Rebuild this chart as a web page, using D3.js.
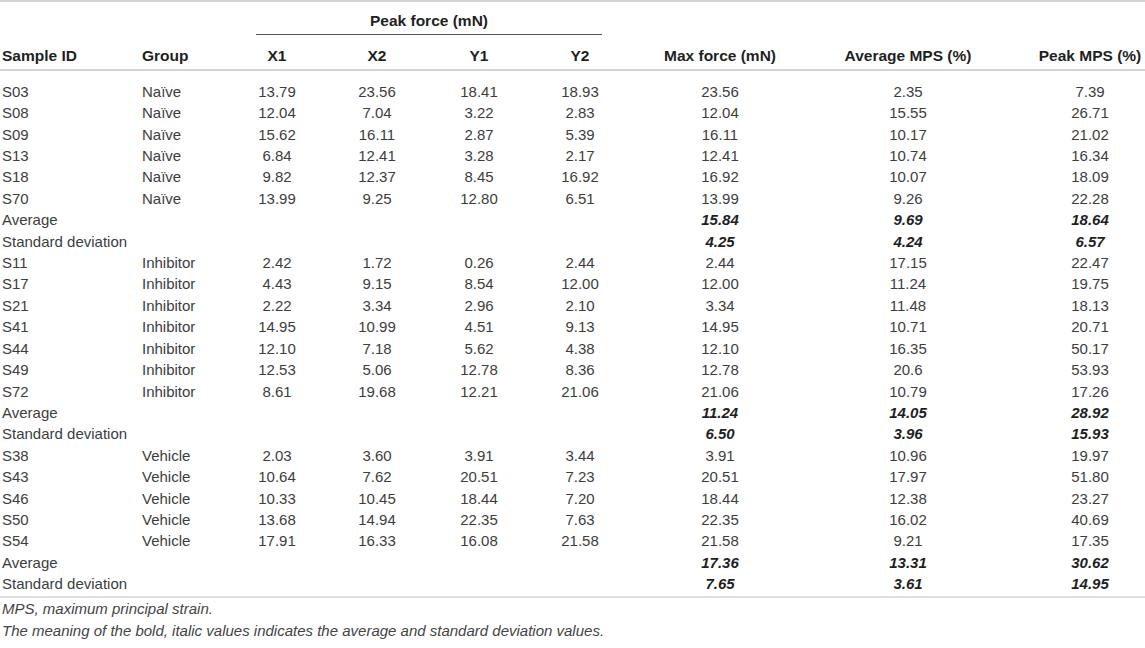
<!DOCTYPE html>
<html>
<head>
<meta charset="utf-8">
<script src="https://cdn.jsdelivr.net/npm/d3@7"></script>
<style>
  body { margin: 0; background: #fff; }
  svg text { font-family: "Liberation Sans", Arial, Helvetica, sans-serif; }
  .cell { font-size: 15px; fill: #3d3d3d; }
  .head { font-size: 15.5px; font-weight: bold; fill: #1f1f1f; }
  .stat { font-weight: bold; font-style: italic; fill: #1f1f1f; }
  .note { font-size: 15px; font-style: italic; fill: #444; }
</style>
</head>
<body>
<div id="table"></div>
<script>
// table values, kept as printed
var sampleIds = ["S03","S08","S09","S13","S18","S70",
                 "S11","S17","S21","S41","S44","S49","S72",
                 "S38","S43","S46","S50","S54"];
var groups = ["Naïve","Naïve","Naïve","Naïve","Naïve","Naïve",
              "Inhibitor","Inhibitor","Inhibitor","Inhibitor","Inhibitor","Inhibitor","Inhibitor",
              "Vehicle","Vehicle","Vehicle","Vehicle","Vehicle"];
var peakX1 = ["13.79","12.04","15.62","6.84","9.82","13.99",
              "2.42","4.43","2.22","14.95","12.10","12.53","8.61",
              "2.03","10.64","10.33","13.68","17.91"];
var peakX2 = ["23.56","7.04","16.11","12.41","12.37","9.25",
              "1.72","9.15","3.34","10.99","7.18","5.06","19.68",
              "3.60","7.62","10.45","14.94","16.33"];
var peakY1 = ["18.41","3.22","2.87","3.28","8.45","12.80",
              "0.26","8.54","2.96","4.51","5.62","12.78","12.21",
              "3.91","20.51","18.44","22.35","16.08"];
var peakY2 = ["18.93","2.83","5.39","2.17","16.92","6.51",
              "2.44","12.00","2.10","9.13","4.38","8.36","21.06",
              "3.44","7.23","7.20","7.63","21.58"];
var maxForce = ["23.56","12.04","16.11","12.41","16.92","13.99",
                "2.44","12.00","3.34","14.95","12.10","12.78","21.06",
                "3.91","20.51","18.44","22.35","21.58"];
var avgMps = ["2.35","15.55","10.17","10.74","10.07","9.26",
              "17.15","11.24","11.48","10.71","16.35","20.6","10.79",
              "10.96","17.97","12.38","16.02","9.21"];
var peakMps = ["7.39","26.71","21.02","16.34","18.09","22.28",
               "22.47","19.75","18.13","20.71","50.17","53.93","17.26",
               "19.97","51.80","23.27","40.69","17.35"];

// summary rows per group
var groupNames = ["Naïve","Inhibitor","Vehicle"];
var avgMaxForce = ["15.84","11.24","17.36"];
var sdMaxForce  = ["4.25","6.50","7.65"];
var avgAvgMps   = ["9.69","14.05","13.31"];
var sdAvgMps    = ["4.24","3.96","3.61"];
var avgPeakMps  = ["18.64","28.92","30.62"];
var sdPeakMps   = ["6.57","15.93","14.95"];

var headers = ["Sample ID","Group","X1","X2","Y1","Y2",
               "Max force (mN)","Average MPS (%)","Peak MPS (%)"];
var notes = ["MPS, maximum principal strain.",
             "The meaning of the bold, italic values indicates the average and standard deviation values."];

// build the row list: samples of a group, then its average and sd
var rows = [];
groupNames.forEach(function(g, gi) {
  groups.forEach(function(gr, i) {
    if (gr !== g) return;
    rows.push({ stat: false,
      cells: [sampleIds[i], groups[i], peakX1[i], peakX2[i], peakY1[i], peakY2[i],
              maxForce[i], avgMps[i], peakMps[i]] });
  });
  rows.push({ stat: true,
    cells: ["Average","","","","","", avgMaxForce[gi], avgAvgMps[gi], avgPeakMps[gi]] });
  rows.push({ stat: true,
    cells: ["Standard deviation","","","","","", sdMaxForce[gi], sdAvgMps[gi], sdPeakMps[gi]] });
});

var width = 1145, height = 648;

var svg = d3.select("#table").append("svg")
  .attr("width", width)
  .attr("height", height);

// column positions and alignment
var colX = d3.scaleOrdinal()
  .domain(d3.range(headers.length))
  .range([2, 142, 277, 377, 479, 580, 720, 908, 1090]);
var colAnchor = function(i) { return i < 2 ? "start" : "middle"; };

// one row every ~21px
var y = d3.scaleLinear()
  .domain([0, rows.length - 1])
  .range([91.5, 584]);

// rules
svg.append("line")
  .attr("x1", 0).attr("x2", width)
  .attr("y1", 1).attr("y2", 1)
  .style("stroke", "#d4d4d4").style("stroke-width", 2);

svg.append("line")
  .attr("x1", 256).attr("x2", 602)
  .attr("y1", 34.5).attr("y2", 34.5)
  .style("stroke", "#555").style("stroke-width", 1);

svg.append("line")
  .attr("x1", 0).attr("x2", width)
  .attr("y1", 70).attr("y2", 70)
  .style("stroke", "#d4d4d4").style("stroke-width", 2);

svg.append("line")
  .attr("x1", 0).attr("x2", width)
  .attr("y1", 597).attr("y2", 597)
  .style("stroke", "#d4d4d4").style("stroke-width", 1.5);

// spanning header
svg.append("text")
  .attr("class", "head")
  .attr("x", (256 + 602) / 2)
  .attr("y", 21)
  .attr("dy", "0.35em")
  .attr("text-anchor", "middle")
  .text("Peak force (mN)");

// column headers
svg.append("g").selectAll("text")
  .data(headers)
  .enter()
  .append("text")
    .attr("class", "head")
    .attr("x", function(d, i) { return colX(i); })
    .attr("y", 56)
    .attr("dy", "0.35em")
    .attr("text-anchor", function(d, i) { return colAnchor(i); })
    .text(function(d) { return d; });

// body
var rowG = svg.append("g").selectAll("g")
  .data(rows)
  .enter()
  .append("g")
    .attr("transform", function(d, i) { return "translate(0," + y(i) + ")"; });

rowG.selectAll("text")
  .data(function(d) {
    return d.cells.map(function(c, i) { return { v: c, i: i, stat: d.stat }; });
  })
  .enter()
  .append("text")
    .attr("class", function(d) { return d.stat && d.i >= 6 ? "cell stat" : "cell"; })
    .attr("x", function(d) { return colX(d.i); })
    .attr("dy", "0.35em")
    .attr("text-anchor", function(d) { return colAnchor(d.i); })
    .text(function(d) { return d.v; });

// footnotes
svg.append("g").selectAll("text")
  .data(notes)
  .enter()
  .append("text")
    .attr("class", "note")
    .attr("x", 2)
    .attr("y", function(d, i) { return 609 + i * 21.5; })
    .attr("dy", "0.35em")
    .text(function(d) { return d; });
</script>
</body>
</html>
